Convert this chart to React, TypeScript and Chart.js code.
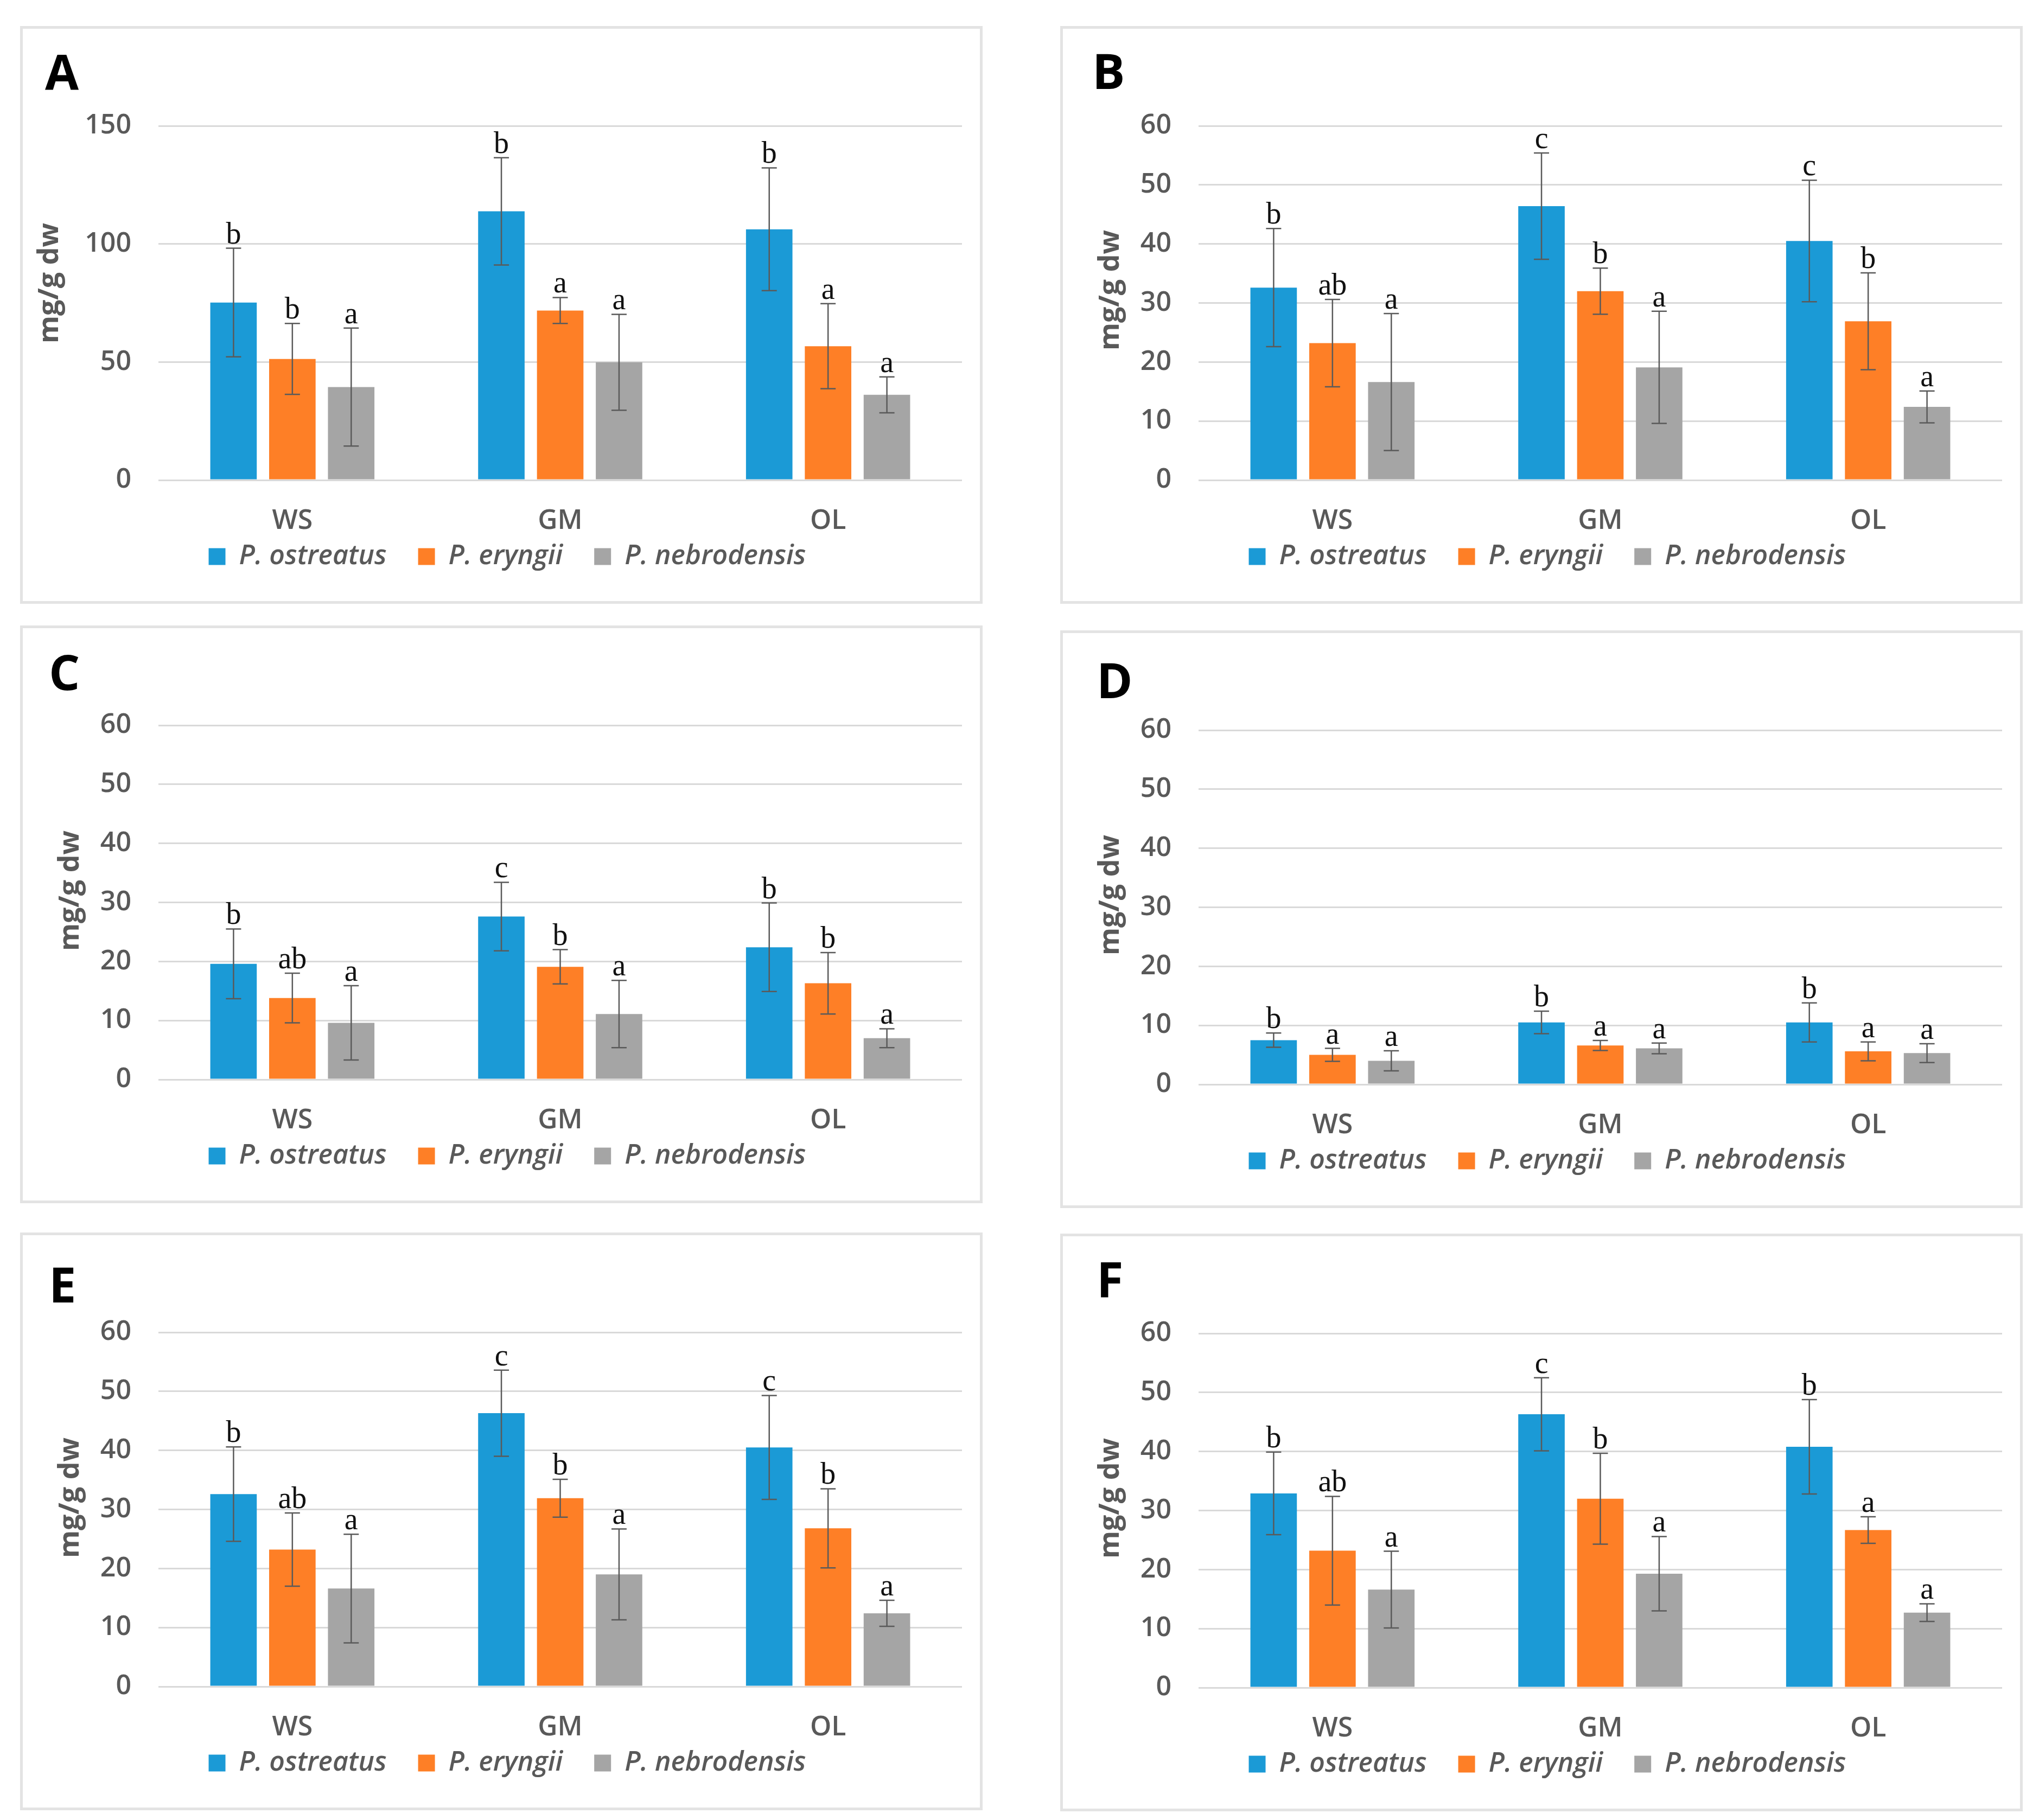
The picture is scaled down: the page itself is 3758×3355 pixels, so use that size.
import React, { useEffect, useRef } from 'react';
import { Chart, registerables } from 'chart.js';

Chart.register(...registerables);

// ---------------- data ----------------
const categories = ['WS', 'GM', 'OL'];
const seriesNames = ['P. ostreatus', 'P. eryngii', 'P. nebrodensis'];
const seriesColors = ['#1B9AD6', '#FE7F26', '#A5A5A5'];

const ticksA = [0, 50, 100, 150];
const ticks60 = [0, 10, 20, 30, 40, 50, 60];

// Panel A
const aOstreatus = [75.2, 113.8, 106.2];
const aEryngii = [51.3, 71.8, 56.7];
const aNebrodensis = [39.4, 49.9, 36.1];
const aOstreatusSd = [23.0, 22.7, 26.0];
const aEryngiiSd = [15.0, 5.5, 18.0];
const aNebrodensisSd = [25.0, 20.3, 7.6];
const aOstreatusSig = ['b', 'b', 'b'];
const aEryngiiSig = ['b', 'a', 'a'];
const aNebrodensisSig = ['a', 'a', 'a'];

// Panel B
const bOstreatus = [32.6, 46.4, 40.5];
const bEryngii = [23.2, 32.0, 26.9];
const bNebrodensis = [16.6, 19.1, 12.4];
const bOstreatusSd = [10.0, 9.0, 10.3];
const bEryngiiSd = [7.4, 3.9, 8.2];
const bNebrodensisSd = [11.6, 9.5, 2.7];
const bOstreatusSig = ['b', 'c', 'c'];
const bEryngiiSig = ['ab', 'b', 'b'];
const bNebrodensisSig = ['a', 'a', 'a'];

// Panel C
const cOstreatus = [19.6, 27.6, 22.4];
const cEryngii = [13.8, 19.1, 16.3];
const cNebrodensis = [9.6, 11.1, 7.0];
const cOstreatusSd = [5.9, 5.8, 7.5];
const cEryngiiSd = [4.2, 2.9, 5.2];
const cNebrodensisSd = [6.3, 5.7, 1.6];
const cOstreatusSig = ['b', 'c', 'b'];
const cEryngiiSig = ['ab', 'b', 'b'];
const cNebrodensisSig = ['a', 'a', 'a'];

// Panel D
const dOstreatus = [7.5, 10.5, 10.5];
const dEryngii = [5.0, 6.6, 5.6];
const dNebrodensis = [4.0, 6.1, 5.3];
const dOstreatusSd = [1.2, 1.9, 3.3];
const dEryngiiSd = [1.1, 0.85, 1.6];
const dNebrodensisSd = [1.7, 0.9, 1.6];
const dOstreatusSig = ['b', 'b', 'b'];
const dEryngiiSig = ['a', 'a', 'a'];
const dNebrodensisSig = ['a', 'a', 'a'];

// Panel E
const eOstreatus = [32.6, 46.3, 40.5];
const eEryngii = [23.2, 31.9, 26.8];
const eNebrodensis = [16.6, 19.0, 12.4];
const eOstreatusSd = [8.0, 7.3, 8.8];
const eEryngiiSd = [6.2, 3.2, 6.7];
const eNebrodensisSd = [9.2, 7.7, 2.2];
const eOstreatusSig = ['b', 'c', 'c'];
const eEryngiiSig = ['ab', 'b', 'b'];
const eNebrodensisSig = ['a', 'a', 'a'];

// Panel F
const fOstreatus = [32.9, 46.3, 40.8];
const fEryngii = [23.2, 32.0, 26.7];
const fNebrodensis = [16.6, 19.3, 12.7];
const fOstreatusSd = [7.0, 6.2, 8.0];
const fEryngiiSd = [9.2, 7.7, 2.25];
const fNebrodensisSd = [6.5, 6.3, 1.5];
const fOstreatusSig = ['b', 'c', 'b'];
const fEryngiiSig = ['ab', 'b', 'a'];
const fNebrodensisSig = ['a', 'a', 'a'];

const yTitle = 'mg/g dw';

// ---------------- layout ----------------
const PANEL_W = 1774;
const PANEL_H = 1065;
const BORDER = 5;
const CW = PANEL_W - 2 * BORDER;
const CH = PANEL_H - 2 * BORDER;
const FONT = '"Open Sans", "DejaVu Sans", sans-serif';
const TEXT_GRAY = '#595959';

type PanelDef = {
  id: string;
  left: number;
  top: number;
  labelX: number;
  labelY: number;
  titleX: number;
  titleY: number;
  ticks: number[];
  series: number[][];
  sd: number[][];
  sig: string[][];
};

const panels: PanelDef[] = [
  { id: 'A', left: 37, top: 48, labelX: 41, labelY: 112, titleX: 50, titleY: 469, ticks: ticksA,
    series: [aOstreatus, aEryngii, aNebrodensis], sd: [aOstreatusSd, aEryngiiSd, aNebrodensisSd], sig: [aOstreatusSig, aEryngiiSig, aNebrodensisSig] },
  { id: 'B', left: 1954, top: 48, labelX: 54, labelY: 111, titleX: 88, titleY: 482, ticks: ticks60,
    series: [bOstreatus, bEryngii, bNebrodensis], sd: [bOstreatusSd, bEryngiiSd, bNebrodensisSd], sig: [bOstreatusSig, bEryngiiSig, bNebrodensisSig] },
  { id: 'C', left: 37, top: 1153, labelX: 48, labelY: 114, titleX: 88, titleY: 484, ticks: ticks60,
    series: [cOstreatus, cEryngii, cNebrodensis], sd: [cOstreatusSd, cEryngiiSd, cNebrodensisSd], sig: [cOstreatusSig, cEryngiiSig, cNebrodensisSig] },
  { id: 'D', left: 1954, top: 1162, labelX: 62, labelY: 120, titleX: 88, titleY: 483, ticks: ticks60,
    series: [dOstreatus, dEryngii, dNebrodensis], sd: [dOstreatusSd, dEryngiiSd, dNebrodensisSd], sig: [dOstreatusSig, dEryngiiSig, dNebrodensisSig] },
  { id: 'E', left: 37, top: 2272, labelX: 48, labelY: 124, titleX: 88, titleY: 484, ticks: ticks60,
    series: [eOstreatus, eEryngii, eNebrodensis], sd: [eOstreatusSd, eEryngiiSd, eNebrodensisSd], sig: [eOstreatusSig, eEryngiiSig, eNebrodensisSig] },
  { id: 'F', left: 1954, top: 2274, labelX: 62, labelY: 112, titleX: 88, titleY: 483, ticks: ticks60,
    series: [fOstreatus, fEryngii, fNebrodensis], sd: [fOstreatusSd, fEryngiiSd, fNebrodensisSd], sig: [fOstreatusSig, fEryngiiSig, fNebrodensisSig] },
];

function makeAnnotPlugin(p: PanelDef) {
  return {
    id: 'annot' + p.id,
    afterDatasetsDraw(chart: any) {
      const ctx = chart.ctx as CanvasRenderingContext2D;
      const y = chart.scales.y;
      ctx.save();
      chart.data.datasets.forEach((ds: any, di: number) => {
        const meta = chart.getDatasetMeta(di);
        meta.data.forEach((bar: any, i: number) => {
          const v = ds.data[i];
          const e = p.sd[di][i];
          const yt = y.getPixelForValue(v + e);
          const yb = y.getPixelForValue(v - e);
          const x = bar.x;
          ctx.strokeStyle = '#5A5A5A';
          ctx.lineWidth = 2.5;
          ctx.beginPath();
          ctx.moveTo(x, yt);
          ctx.lineTo(x, yb);
          ctx.moveTo(x - 14, yt);
          ctx.lineTo(x + 14, yt);
          ctx.moveTo(x - 14, yb);
          ctx.lineTo(x + 14, yb);
          ctx.stroke();
          ctx.fillStyle = '#111111';
          ctx.font = '56px "Liberation Serif", "DejaVu Serif", serif';
          ctx.textAlign = 'center';
          ctx.textBaseline = 'alphabetic';
          ctx.fillText(p.sig[di][i], x, yt - 9);
        });
      });
      ctx.restore();
    },
    afterDraw(chart: any) {
      const ctx = chart.ctx as CanvasRenderingContext2D;
      ctx.save();
      ctx.fillStyle = '#000000';
      ctx.font = `bold 90px ${FONT}`;
      ctx.textAlign = 'left';
      ctx.textBaseline = 'alphabetic';
      ctx.fillText(p.id, p.labelX, p.labelY);
      ctx.translate(p.titleX, p.titleY);
      ctx.rotate(-Math.PI / 2);
      ctx.font = `bold 52px ${FONT}`;
      ctx.fillStyle = TEXT_GRAY;
      ctx.textAlign = 'center';
      ctx.textBaseline = 'middle';
      ctx.fillText(yTitle, 0, 0);
      ctx.restore();
    },
  };
}

function Panel({ p }: { p: PanelDef }) {
  const ref = useRef<HTMLCanvasElement>(null);
  useEffect(() => {
    const canvas = ref.current;
    if (!canvas) return;
    const tickVals = p.ticks;
    const chart = new Chart(canvas, {
      type: 'bar',
      data: {
        labels: categories,
        datasets: seriesNames.map((name, i) => ({
          label: name,
          data: p.series[i],
          backgroundColor: seriesColors[i],
          borderWidth: 0,
          categoryPercentage: 0.659,
          barPercentage: 0.79,
        })),
      },
      options: {
        responsive: false,
        animation: false,
        devicePixelRatio: 1,
        layout: { padding: { top: 179, left: 55, right: 33, bottom: 47 } },
        scales: {
          x: {
            grid: { display: false },
            border: { display: false },
            ticks: {
              color: TEXT_GRAY,
              font: { family: FONT, size: 50, weight: '600' },
              mirror: true,
              padding: -106,
            },
            afterFit: (s: any) => { s.height = 58; },
          },
          y: {
            min: 0,
            max: tickVals[tickVals.length - 1],
            afterBuildTicks: (s: any) => { s.ticks = tickVals.map((v) => ({ value: v })); },
            grid: { color: '#D9D9D9', lineWidth: 3, drawTicks: false },
            border: { display: false },
            ticks: {
              color: TEXT_GRAY,
              font: { family: FONT, size: 50, weight: '600' },
              padding: 50,
              callback: (v: any) => String(v),
            },
            afterFit: (s: any) => { s.width = 195; },
          },
        },
        plugins: {
          legend: {
            position: 'bottom',
            labels: {
              boxWidth: 31,
              boxHeight: 31,
              padding: 58,
              color: TEXT_GRAY,
              font: { family: FONT, size: 50, style: 'italic', weight: '600' },
            },
          },
          tooltip: { enabled: false },
          title: { display: false },
        },
      } as any,
      plugins: [makeAnnotPlugin(p)],
    });
    return () => chart.destroy();
  }, [p]);
  return (
    <div
      style={{
        position: 'absolute',
        left: p.left,
        top: p.top,
        width: PANEL_W,
        height: PANEL_H,
        boxSizing: 'border-box',
        border: `${BORDER}px solid #E3E3E3`,
        background: '#ffffff',
      }}
    >
      <canvas ref={ref} width={CW} height={CH} style={{ display: 'block', width: CW, height: CH }} />
    </div>
  );
}

export default function App() {
  return (
    <div style={{ position: 'absolute', left: 0, top: 0, width: 3758, height: 3355, background: '#ffffff', overflow: 'hidden' }}>
      {panels.map((p) => (
        <Panel key={p.id} p={p} />
      ))}
    </div>
  );
}
